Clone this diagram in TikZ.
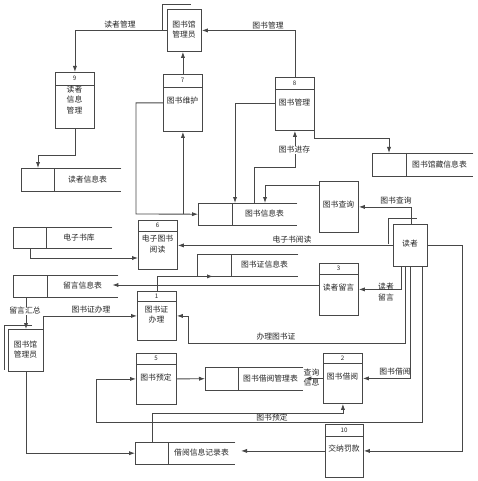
\documentclass[tikz,border=0pt]{standalone}
\usepackage{fontspec}
\newfontfamily\cjk{Noto Sans CJK SC}
\usetikzlibrary{arrows.meta}
\tikzset{
 ln/.style={draw=black!72, line width=0.85pt},
 arr/.style={ln, -{Latex[length=6pt,width=4.2pt]}},
 box/.style={draw=black!72, line width=0.85pt, inner sep=0, fill=white},
 txt/.style={font=\cjk\fontsize{7.8}{10.5}\selectfont, align=center, inner sep=0, text=black!85},
 num/.style={font=\cjk\fontsize{6.2}{7}\selectfont, inner sep=0, text=black!85},
 lbl/.style={txt},
 lblw/.style={txt, fill=white, inner sep=0.6pt}
}
% process box: name, x1, y1, x2, y2, ydiv, number
\newcommand\procbox[7]{%
  \node[box, minimum width={(#4-#2)*1pt}, minimum height={(#5-#3)*1pt}, anchor=north west] (#1) at (#2,#3) {};
  \ifx\relax#6\relax\else
    \draw[ln] (#2,#6) -- (#4,#6);
    \node[num] (#1n) at ({(#2+#4)/2},{(#3+#6)/2}) {#7};
  \fi
}
% data store: name, x1, y1, xend, y2, xdiv, text
\newcommand\dstore[7]{%
  \node[inner sep=0, minimum width={(#4-#2)*1pt}, minimum height={(#5-#3)*1pt}, anchor=north west] (#1) at (#2,#3) {};
  \draw[ln] (#1.north east) -- (#1.north west) -- (#1.south west) -- (#1.south east);
  \draw[ln] (#6,#3) -- (#6,#5);
  \node[txt] (#1t) at ({(#6+#4)/2},{(#3+#5)/2}) {#7};
}
\begin{document}
\begin{tikzpicture}[x=1pt,y=-1pt]
\useasboundingbox[fill=white] (0,0) rectangle (478,481);

% ---------- processes / entities ----------
\procbox{mgrT}{167}{9}{201}{51}{}{}
\node[txt] (mgrTt) at (184,29.5) {图书馆\\管理员};
\procbox{p9}{55}{72}{94}{128}{85}{9}
\node[txt] (p9t) at (74.5,100) {读者\\信息\\管理};
\procbox{p7}{163}{74}{202}{131}{87}{7}
\node[txt] (p7t) at (182.5,101) {图书维护};
\procbox{p8}{275}{77}{314}{130}{89}{8}
\node[txt] (p8t) at (294.5,103) {图书管理};
\procbox{query}{319}{181}{358}{232}{}{}
\node[txt] (queryt) at (338.5,205) {图书查询};
\procbox{reader}{393}{224}{427}{266}{}{}
\node[txt] (readert) at (410,244) {读者};
\procbox{p6}{138}{220}{177}{269}{231}{6}
\node[txt] (p6t) at (157.5,244) {电子图书\\阅读};
\procbox{p3}{319}{263}{358}{315}{274}{3}
\node[txt] (p3t) at (338.5,288) {读者留言};
\procbox{p1}{137}{291}{176}{340}{301}{1}
\node[txt] (p1t) at (156.5,314.5) {图书证\\办理};
\procbox{mgrB}{8}{329}{43}{371}{}{}
\node[txt] (mgrBt) at (25.5,349.5) {图书馆\\管理员};
\procbox{p5}{136}{353}{176}{404}{364}{5}
\node[txt] (p5t) at (156,378) {图书预定};
\procbox{p2}{323}{353}{362}{403}{363}{2}
\node[txt] (p2t) at (342.5,377) {图书借阅};
\procbox{p10}{325}{424}{363}{477}{436}{10}
\node[txt] (p10t) at (344,449) {交纳罚款};

% ---------- data stores ----------
\dstore{sRead}{21}{168}{121}{191}{54}{读者信息表}
\dstore{sBook}{198}{203}{297}{225}{232}{图书信息表}
\dstore{sColl}{372}{153}{473}{176}{406}{图书馆藏信息表}
\dstore{sEbook}{13}{227}{112}{248}{46}{电子书库}
\dstore{sCard}{197}{254}{298}{276}{231}{图书证信息表}
\dstore{sMsg}{13}{275}{118}{297}{47}{留言信息表}
\dstore{sBorrow}{205}{367}{303}{390}{238}{图书借阅管理表}
\dstore{sLog}{135}{442}{235}{464}{168}{借阅信息记录表}

% ---------- connectors ----------
\draw[arr] (mgrT.west) -| (p9.north);
\draw[ln] (162,30) -- (162,4) -- (191,4);
\draw[arr] (p7.north) -- (p7.north |- mgrT.south);
\draw[arr] (p8.north) |- (mgrT.east);
\draw[arr] (p9.south) |- (38,155) -- (sRead.north -| 38,0);
\draw[arr] (p8.south east) -- ++(0,8) -| (sColl.north -| 389,0);
\draw[arr] (p8.west) -| (sBook.north -| 235,0);
\draw[arr] (p7.west) -| (136,214) -- (sBook.west);
\draw[arr] (sBook.west -| p7.south) -- (p7.south);
\draw[arr] (sBook.north -| 254,0) |- (p8.south |- 0,167) -- (p8.south);
\draw[arr] (query.west |- 0,185) -| (sBook.north -| 265,0);
\draw[arr] (reader.north -| 411,0) |- (query.east);
\draw[ln] (388,244) -- (388,218) -- (417,218);
\draw[arr] (reader.west) -- (p6.east |- reader.west);
\draw[arr] (sEbook.south -| 30,0) |- (p6.west |- 0,258);
\draw[arr] (p3.west |- 0,285) -- ([xshift=-6pt]sMsg.east |- 0,285);
\draw[arr] (p1.north) |- ([xshift=16pt]sCard.south west);
\draw[arr] (reader.south -| 401,0) |- (p3.east);
\draw[arr] (reader.south -| 405,0) |- (188,343) |- (p1.east);
\draw[arr] (reader.south -| 410,0) |- (p2.east);
\draw[arr] (reader.south -| 422,0) |- (96,422) |- (p5.west);
\draw[arr] (reader.east) -| (p10.east -| 462,0) -- (p10.east);
\draw[arr] (p10.west) -- (p10.west -| 241,0);
\draw[arr] (mgrB.south) |- (sLog.west);
\draw[arr] (sLog.north -| 152,0) |- (p2.south |- 0,413) -- (p2.south);
\draw[arr] (p5.east) -- (sBorrow.west);
\draw[arr] (p2.west) -- ([xshift=2pt]sBorrow.east |- p2.west);
\draw[arr] (sMsg.south -| 26,0) -- (mgrB.north -| 26,0);
\draw[arr] (mgrB.north east) |- (p1.west);
\draw[ln] (32,325) -- (4,325) -- (4,370);

% ---------- labels ----------
\node[lbl] (l1) at (120,25) {读者管理};
\node[lbl] (l2) at (268,26) {图书管理};
\node[lblw] (l3) at (294.5,150) {图书进存};
\node[lbl] (l4) at (396,201) {图书查询};
\node[lbl] (l5) at (292,239.5) {电子书阅读};
\node[lbl] (l6) at (386,292) {读者\\留言};
\node[lblw] (l7) at (25,311) {留言汇总};
\node[lbl] (l8) at (91,309.5) {图书证办理};
\node[lbl] (l9) at (276,337) {办理图书证};
\node[lbl] (l10) at (395,372) {图书借阅};
\node[lbl] (l11) at (311.5,377.5) {查询\\信息};
\node[lbl] (l12) at (272,417.5) {图书预定};
\end{tikzpicture}
\end{document}
